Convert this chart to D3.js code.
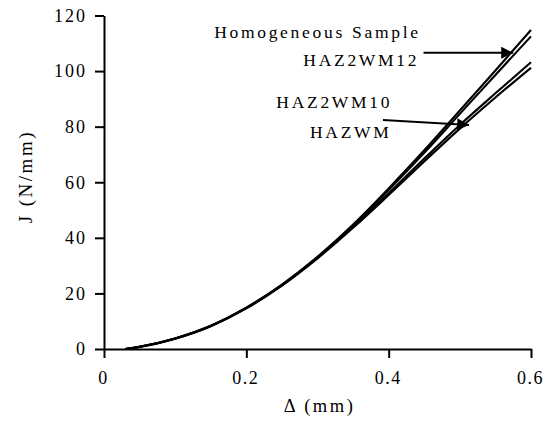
<!DOCTYPE html>
<html>
<head>
<meta charset="utf-8">
<script src="https://cdn.jsdelivr.net/npm/d3@7"></script>
<style>
  html, body { margin: 0; padding: 0; background: #fff; }
  svg { display: block; }
</style>
</head>
<body>
<svg id="chart" width="545" height="426"></svg>
<script>
// Data
const deltaMM = [0.03, 0.05, 0.10, 0.15, 0.20, 0.25, 0.30, 0.35, 0.40, 0.45, 0.50, 0.55, 0.60];
const homogeneous = [0, 0.8, 3.8, 8.4, 14.9, 23.2, 33.2, 44.8, 57.8, 71.5, 85.8, 100.2, 114.8];
const haz2wm12    = [0, 0.8, 3.8, 8.3, 14.8, 23.0, 33.0, 44.4, 57.2, 70.6, 84.6, 98.6, 112.5];
const haz2wm10    = [0, 0.8, 3.8, 8.3, 14.8, 23.0, 32.9, 44.0, 56.0, 68.5, 80.6, 92.0, 103.2];
const hazwm       = [0, 0.7, 3.7, 8.2, 14.6, 22.8, 32.6, 43.6, 55.4, 67.5, 79.3, 90.5, 101.2];
const seriesNames = ["Homogeneous Sample", "HAZ2WM12", "HAZ2WM10", "HAZWM"];
const xTicks = [0, 0.2, 0.4, 0.6];
const yTicks = [0, 20, 40, 60, 80, 100, 120];
const xTickLabels = ["0", "0.2", "0.4", "0.6"];
const yTickLabels = ["0", "20", "40", "60", "80", "100", "120"];
// annotation label anchors (data units, right end / baseline)
const labelX = [0.445, 0.443, 0.405, 0.404];
const labelY = [111.8, 101.8, 86.7, 75.9];
// arrows (data units): [x1, y1, x2, y2]
const arrow1 = [0.449, 106.6, 0.575, 106.6];
const arrow2 = [0.392, 82.4, 0.513, 80.6];

const FONT = "Liberation Serif";
const svg = d3.select("#chart");
const margin = {left: 104, right: 14, top: 15.5, bottom: 77};
const W = 545, H = 426;
const x = d3.scaleLinear().domain([0, 0.6]).range([margin.left, W - margin.right]);
const y = d3.scaleLinear().domain([0, 120]).range([H - margin.bottom, margin.top]);

const allSeries = [homogeneous, haz2wm12, haz2wm10, hazwm];
const line = d3.line().x(d => x(d[0])).y(d => y(d[1])).curve(d3.curveMonotoneX);

// curves
allSeries.forEach((s) => {
  const pts = deltaMM.map((d, k) => [d, s[k]]);
  svg.append("path").attr("d", line(pts))
    .attr("fill", "none").attr("stroke", "#000").attr("stroke-width", 2.1);
});

// axes
const xAxis = d3.axisBottom(x).tickValues(xTicks).tickFormat((d, i) => xTickLabels[i])
  .tickSizeInner(9).tickSizeOuter(0).tickPadding(13);
const yAxis = d3.axisLeft(y).tickValues(yTicks).tickFormat((d, i) => yTickLabels[i])
  .tickSizeInner(9).tickSizeOuter(0).tickPadding(9);

const gx = svg.append("g").attr("transform", `translate(0,${y(0)})`).call(xAxis);
const gy = svg.append("g").attr("transform", `translate(${x(0)},0)`).call(yAxis);
[gx, gy].forEach(g => {
  g.attr("font-family", null).attr("font-size", null);
  g.select(".domain").attr("stroke", "#000").attr("stroke-width", 2);
  g.selectAll(".tick line").attr("stroke", "#000").attr("stroke-width", 2);
  g.selectAll(".tick text").style("font-family", FONT)
    .style("font-size", "18px").attr("fill", "#000");
});
gy.selectAll(".tick text").style("letter-spacing", "2px").attr("dx", 1);
gx.selectAll(".tick text").style("letter-spacing", "1.5px").attr("dx", -1);

// axis titles
svg.append("text").attr("x", (x(0) + x(0.6)) / 2 + 2).attr("y", 412)
  .attr("text-anchor", "middle").style("font-family", FONT).style("font-size", "18.5px")
  .style("letter-spacing", "2.5px")
  .text("\u0394 (mm)");
svg.append("text").attr("transform", `translate(32,${y(62)}) rotate(-90)`)
  .attr("text-anchor", "middle").style("font-family", FONT).style("font-size", "19px")
  .style("letter-spacing", "2.5px")
  .text("J (N/mm)");

// annotations
seriesNames.forEach((n, i) => {
  svg.append("text").attr("x", x(labelX[i])).attr("y", y(labelY[i]))
    .attr("text-anchor", "end").style("font-family", FONT).style("font-size", "17.5px")
    .style("letter-spacing", "2.7px")
    .text(n);
});

const defs = svg.append("defs");
defs.append("marker").attr("id", "ah").attr("viewBox", "0 0 10 10")
  .attr("refX", 10).attr("refY", 5).attr("markerWidth", 12).attr("markerHeight", 12)
  .attr("markerUnits", "userSpaceOnUse").attr("orient", "auto")
  .append("path").attr("d", "M0,0 L10,5 L0,10 Z").attr("fill", "#000");

[arrow1, arrow2].forEach(a => {
  svg.append("line").attr("x1", x(a[0])).attr("y1", y(a[1]))
    .attr("x2", x(a[2])).attr("y2", y(a[3]))
    .attr("stroke", "#000").attr("stroke-width", 1.8).attr("marker-end", "url(#ah)");
});
</script>
</body>
</html>
